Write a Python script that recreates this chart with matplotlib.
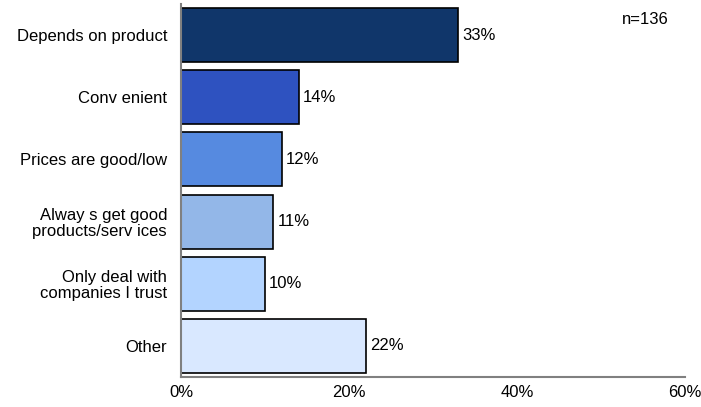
import matplotlib
matplotlib.use('Agg')
import matplotlib.pyplot as plt

# Reasons cited, top to bottom
reasons = ['Depends on product', 'Conv enient', 'Prices are good/low',
           'Alway s get good\nproducts/serv ices', 'Only deal with\ncompanies I trust',
           'Other']
pct = [33, 14, 12, 11, 10, 22]
colors = ['#10366A', '#2E52C0', '#568AE0', '#93B7E8', '#B3D4FF', '#D9E8FF']
xticks = [0, 20, 40, 60]

plt.rcParams['font.family'] = ['Liberation Sans', 'DejaVu Sans']
fs = 12

fig = plt.figure(figsize=(7.01, 4.07), dpi=100)
ax = fig.add_axes([181 / 701, 30 / 407, 504 / 701, 373 / 407])

ypos = list(range(len(reasons)))
ax.barh(ypos, pct, height=0.87, color=colors, edgecolor='black', linewidth=1.2)
for y, v in zip(ypos, pct):
    ax.text(v + 0.5, y, f'{v}%', va='center', ha='left', fontsize=fs)

ax.set_ylim(len(reasons) - 0.5, -0.5)
ax.set_xlim(0, 60)
ax.set_yticks(ypos)
ax.set_yticklabels(reasons, fontsize=fs, linespacing=1.1)
ax.set_xticks(xticks)
ax.set_xticklabels([f'{t}%' for t in xticks], fontsize=fs)
ax.tick_params(axis='x', length=0, pad=6)
ax.tick_params(axis='y', length=0, pad=10)

for s in ['top', 'right']:
    ax.spines[s].set_visible(False)
for s in ['left', 'bottom']:
    ax.spines[s].set_color('#808080')
    ax.spines[s].set_linewidth(1.5)

ax.text(645 / 701, 1 - 19 / 407, 'n=136', transform=fig.transFigure,
        ha='center', va='center', fontsize=fs)

fig.savefig('out.png', dpi=100)
